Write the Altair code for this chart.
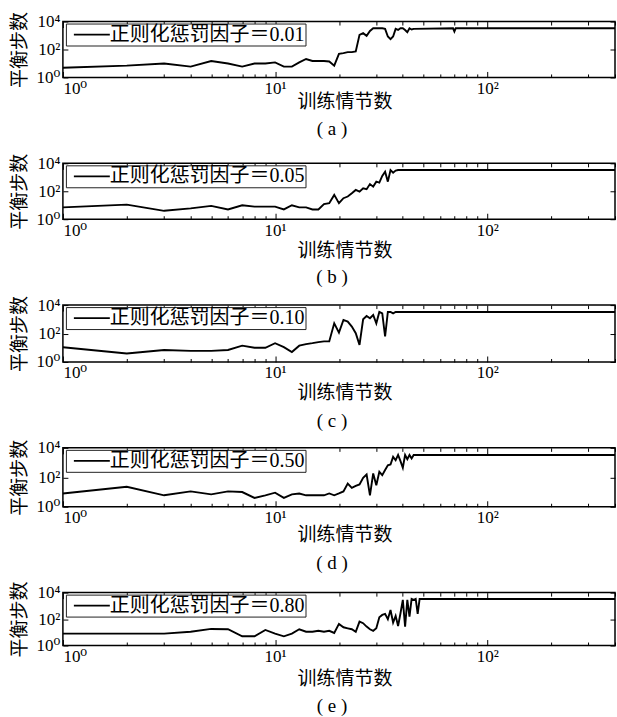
import altair as alt
import pandas as pd

SERIF = "Liberation Serif, DejaVu Serif, Noto Sans CJK SC"
CJK = "Liberation Serif, Noto Sans CJK SC"

# Balance steps per training episode, one series per regularisation factor
episodes_a = list(range(1, 46)) + [69, 70, 71, 400]
steps_a = [5, 7, 10, 6, 15, 10, 6, 10, 10, 12,
           6, 6, 12, 21, 15, 15, 15, 14, 7, 49,
           55, 65, 65, 72, 1120, 1480, 950, 2140, 3300, 3300,
           3300, 3300, 3000, 850, 550, 850, 3000, 2500, 3300, 3300,
           2500, 1740, 3300, 2700, 3000, 3300, 1950, 3300, 3300]

episodes_b = list(range(1, 39)) + [400]
steps_b = [7, 11, 4, 6, 9, 5, 10, 8, 8, 8,
           5, 10, 7, 7, 5, 5, 12, 14, 55, 14,
           32, 42, 72, 125, 95, 165, 140, 330, 215, 490,
           415, 1250, 2520, 490, 3300, 2140, 3000, 3300, 3300]

episodes_c = list(range(1, 38)) + [400]
steps_c = [11, 4, 7, 6, 6, 7, 14, 10, 10, 21,
           11, 5, 14, 18, 21, 25, 28, 28, 525, 117,
           900, 690, 310, 105, 16, 1000, 1700, 1180, 2000, 525,
           3300, 2600, 62, 3300, 3300, 2600, 3300, 3300]

episodes_d = list(range(1, 46)) + [400]
steps_d = [8, 23, 6, 11, 7, 11, 10, 4, 6, 9,
           4, 7, 8, 6, 6, 6, 6, 8, 6, 8,
           11, 38, 19, 26, 33, 93, 155, 6, 182, 29,
           235, 140, 310, 660, 740, 2450, 1450, 3300, 1250, 440,
           3300, 1700, 3300, 1900, 3300, 3300]

episodes_e = list(range(1, 49)) + [400]
steps_e = [8, 8, 8, 11, 18, 17, 5, 5, 15, 8,
           5, 8, 17, 11, 11, 13, 11, 13, 9, 43,
           24, 20, 17, 11, 65, 49, 27, 17, 13, 20,
           137, 205, 245, 97, 490, 55, 174, 30, 275, 2800,
           27, 2800, 155, 3300, 2800, 3300, 245, 3300, 3300]

tags = ["a", "b", "c", "d", "e"]
factors = ["0.01", "0.05", "0.10", "0.50", "0.80"]
episode_lists = [episodes_a, episodes_b, episodes_c, episodes_d, episodes_e]
step_lists = [steps_a, steps_b, steps_c, steps_d, steps_e]

# per-panel geometry: plot height, axis-title centre below frame, caption gap
heights = [56, 56, 57, 59, 53]
title_y = [24, 31.5, 31, 27.5, 33.5]
caption_gap = [8.5, 7.5, 9, 9.5, 8.5]

x_labels = [1, 10, 100]
x_ticks = [1, 2, 3, 4, 5, 6, 7, 8, 9, 10, 20, 30, 40, 50, 60, 70, 80, 90,
           100, 200, 300, 400]
y_labels = [1, 100, 10000]

WIDTH = 553
MAJOR = "datum.value == 1 || datum.value == 10 || datum.value == 100"


def panel(tag, factor, eps, steps, h, ty, cap):
    name = f"正则化惩罚因子＝{factor}"
    df = pd.DataFrame({"episode": eps, "steps": steps, "series": name})
    xs = alt.Scale(type="log", domain=[1, 400], nice=False)
    ys = alt.Scale(type="log", domain=[1, 10000], nice=False)
    base = alt.Chart(df)

    line = base.mark_line(strokeWidth=1.9, clip=True).encode(
        x=alt.X("episode:Q", scale=xs, axis=alt.Axis(
            orient="bottom", values=x_labels, ticks=False, domain=False,
            labelExpr="datum.value == 1 ? '10⁰' : datum.value == 10 ? '10¹' : '10²'",
            labelPadding=3, title="训练情节数", titleX=282, titleY=ty,
            titleAlign="center", titleBaseline="middle")),
        y=alt.Y("steps:Q", scale=ys, axis=alt.Axis(
            orient="left", values=y_labels, ticks=False, domain=False,
            labelExpr="datum.value == 1 ? '10⁰' : datum.value == 100 ? '10²' : '10⁴'",
            labelPadding=3, title="平衡步数", titleX=-43, titleBaseline="middle")),
        color=alt.Color("series:N", scale=alt.Scale(range=["black"]), legend=alt.Legend(
            title=None, orient="none", legendX=3, legendY=2,
            symbolType="M-3,0H3", symbolSize=144, symbolStrokeWidth=1.8,
            symbolOffset=15, labelOffset=8, padding=1,
            strokeColor="#222", fillColor="white",
            labelFont=CJK, labelFontSize=20, labelLimit=0)),
    )

    # inward ticks along bottom and left edges
    ticks_in_1 = base.mark_line(opacity=0).encode(
        x=alt.X("episode:Q", scale=xs, axis=alt.Axis(
            orient="top", offset=-h, values=x_ticks, labels=False, domain=False,
            tickSize={"condition": {"test": MAJOR, "value": 6}, "value": 3.5},
            tickColor="black", title=None)),
        y=alt.Y("steps:Q", scale=ys, axis=alt.Axis(
            orient="right", offset=-WIDTH, values=y_labels, labels=False, domain=False,
            tickSize=5, tickColor="black", title=None)),
    )
    # inward ticks along top and right edges
    ticks_in_2 = base.mark_line(opacity=0).encode(
        x=alt.X("episode:Q", scale=xs, axis=alt.Axis(
            orient="bottom", offset=-h, values=x_ticks, labels=False, domain=False,
            tickSize={"condition": {"test": MAJOR, "value": 6}, "value": 3.5},
            tickColor="black", title=None)),
        y=alt.Y("steps:Q", scale=ys, axis=alt.Axis(
            orient="left", offset=-WIDTH, values=y_labels, labels=False, domain=False,
            tickSize=5, tickColor="black", title=None)),
    )

    return alt.layer(line, ticks_in_1, ticks_in_2).resolve_axis(
        x="independent", y="independent"
    ).properties(
        width=WIDTH, height=h,
        title=alt.TitleParams(text=f"( {tag} )", orient="bottom", anchor="middle",
                              font=SERIF, fontSize=19, fontWeight="normal",
                              color="black", offset=cap, dx=-7),
    )


panels = [panel(*args) for args in
          zip(tags, factors, episode_lists, step_lists, heights, title_y, caption_gap)]

chart = alt.vconcat(*panels, spacing=86, bounds="flush").resolve_scale(
    color="independent"
).properties(
    padding={"left": 10, "top": 10, "right": 0, "bottom": 0},
    background="white",
).configure_view(
    stroke="black", strokeWidth=1.5
).configure_axis(
    grid=False,
    labelFont=SERIF, labelFontSize=17, labelColor="black",
    titleFont=CJK, titleFontSize=19, titleFontWeight="normal", titleColor="black",
)

chart.save("out.html", embed_options={"renderer": "svg", "actions": False})
